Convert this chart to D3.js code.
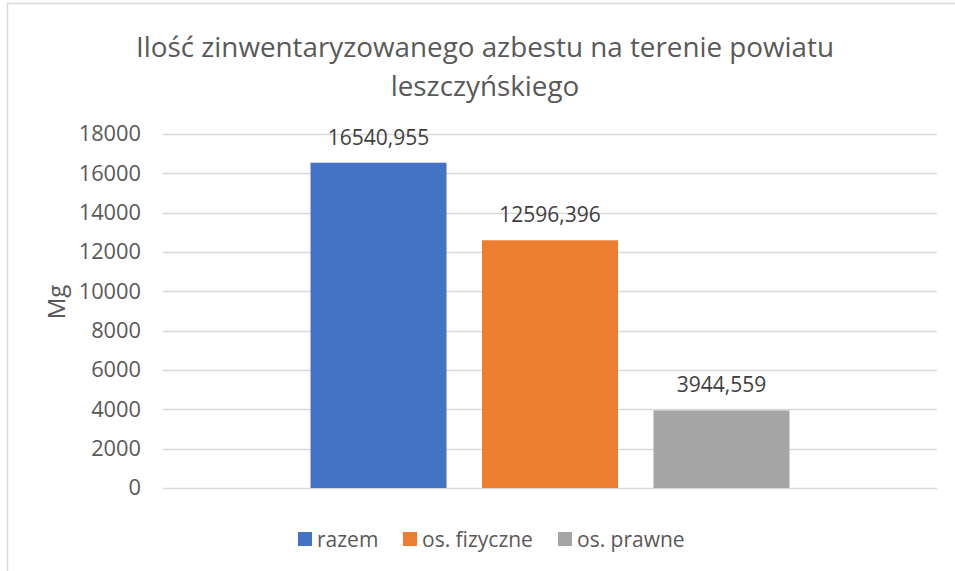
<!DOCTYPE html>
<html>
<head>
<meta charset="utf-8">
<script src="https://cdn.jsdelivr.net/npm/d3@7"></script>
<style>
  body { margin: 0; background: #fff; }
  text { font-family: "Open Sans", sans-serif; fill: #595959; }
</style>
</head>
<body>
<svg id="chart"></svg>
<script>
// Data
const categories = ["powiat"];
const seriesNames = ["razem", "os. fizyczne", "os. prawne"];
const seriesValues = [16540.955, 12596.396, 3944.559];
const valueLabels = ["16540,955", "12596,396", "3944,559"];
const seriesColors = ["#4472C4", "#ED7D31", "#A5A5A5"];
const yTicks = [0, 2000, 4000, 6000, 8000, 10000, 12000, 14000, 16000, 18000];
const titleLines = ["Ilość zinwentaryzowanego azbestu na terenie powiatu", "leszczyńskiego"];

const W = 955, H = 571;
const margin = {top: 134, right: 18, bottom: 83, left: 163};
const width = W - margin.left - margin.right,
    height = H - margin.top - margin.bottom;

const svg = d3.select("#chart")
    .attr("width", W)
    .attr("height", H);

// chart area border (only left and top edges are visible in the crop)
svg.append("path")
    .attr("d", "M7.5," + H + "V3.5H" + W)
    .attr("fill", "none")
    .attr("stroke", "#d9d9d9")
    .attr("stroke-width", 1.5);

const g = svg.append("g")
    .attr("transform", "translate(" + margin.left + "," + margin.top + ")");

// Scales
const x0 = d3.scaleBand().domain(categories).range([0, width]).paddingOuter(0.308);
const x1 = d3.scaleBand().domain(seriesNames).range([0, x0.bandwidth()]).paddingInner(0.207);
const y = d3.scaleLinear().domain([0, 18000]).range([height, 0]);

// Gridlines
g.append("g")
    .selectAll("line")
    .data(yTicks)
    .join("line")
    .attr("x1", 0)
    .attr("x2", width)
    .attr("y1", d => Math.round(y(d)) + 0.5)
    .attr("y2", d => Math.round(y(d)) + 0.5)
    .attr("stroke", "#d9d9d9")
    .attr("stroke-width", 1.3);

// Y axis labels
const yAxis = g.append("g")
    .attr("transform", "translate(-22,0)")
    .call(d3.axisLeft(y).tickValues(yTicks).tickSize(0).tickPadding(0).tickFormat(d3.format("d")));
yAxis.select(".domain").remove();
yAxis.selectAll("text")
    .style("font-family", "'Open Sans', sans-serif")
    .style("font-size", "21.8px")
    .attr("fill", "#595959");

// Y axis title
svg.append("text")
    .attr("transform", "translate(65," + (margin.top + height / 2 - 9) + ") rotate(-90)")
    .attr("text-anchor", "middle")
    .style("font-size", "24px")
    .text("Mg");

// Bars
const group = g.append("g")
    .attr("transform", "translate(" + x0(categories[0]) + ",0)");

group.selectAll("rect")
    .data(seriesValues)
    .join("rect")
    .attr("x", (d, i) => x1(seriesNames[i]))
    .attr("y", d => y(d))
    .attr("width", x1.bandwidth())
    .attr("height", d => height - y(d))
    .attr("fill", (d, i) => seriesColors[i]);

// Value labels above bars
group.selectAll(".value")
    .data(seriesValues)
    .join("text")
    .attr("class", "value")
    .attr("x", (d, i) => x1(seriesNames[i]) + x1.bandwidth() / 2)
    .attr("y", d => y(d) - 18)
    .attr("text-anchor", "middle")
    .style("font-size", "21px")
    .style("fill", "#404040")
    .text((d, i) => valueLabels[i]);

// Title
svg.append("text")
    .attr("x", 485)
    .attr("y", 57)
    .attr("text-anchor", "middle")
    .style("font-size", "27.8px")
    .selectAll("tspan")
    .data(titleLines)
    .join("tspan")
    .attr("x", 485)
    .attr("dy", (d, i) => i === 0 ? 0 : 39)
    .text(d => d);

// Legend
const legendX = [298, 403, 558];
const legend = svg.append("g")
    .selectAll("g")
    .data(seriesNames)
    .join("g")
    .attr("transform", (d, i) => "translate(" + legendX[i] + ",532)");

legend.append("rect")
    .attr("width", 14)
    .attr("height", 14)
    .attr("fill", (d, i) => seriesColors[i]);

legend.append("text")
    .attr("x", 19)
    .attr("y", 14.5)
    .style("font-size", "21px")
    .text(d => d);
</script>
</body>
</html>
